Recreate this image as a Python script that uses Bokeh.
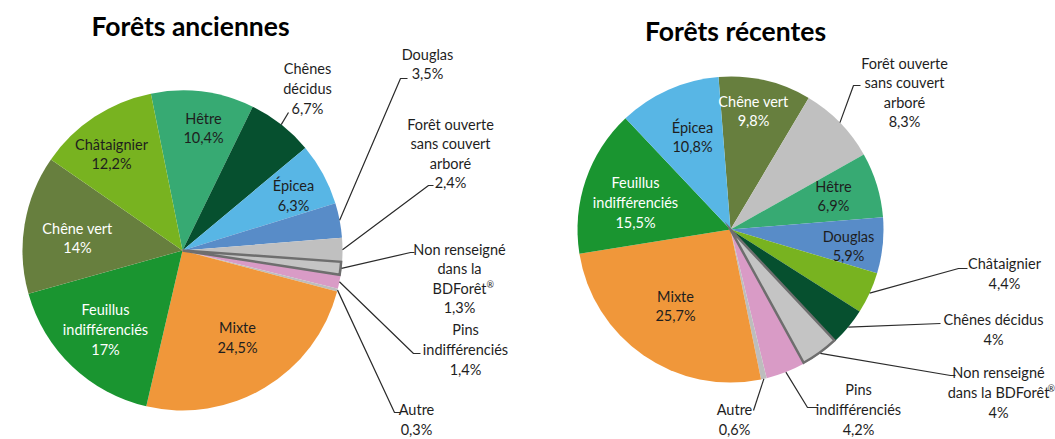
import math
from bokeh.plotting import figure
from bokeh.models import Range1d, ColumnDataSource
from bokeh.embed import file_html
from bokeh.resources import INLINE
from bokeh.core.properties import value

# ---------------- data ----------------
anc_title = "Forêts anciennes"
anc_categories = ["Hêtre", "Chênes décidus", "Épicea", "Douglas",
                  "Forêt ouverte sans couvert arboré", "Non renseigné dans la BDForêt®",
                  "Pins indifférenciés", "Autre", "Mixte", "Feuillus indifférenciés",
                  "Chêne vert", "Châtaignier"]
anc_values = [10.4, 6.7, 6.3, 3.5, 2.4, 1.3, 1.4, 0.3, 24.5, 17, 14, 12.2]

rec_title = "Forêts récentes"
rec_categories = ["Chêne vert", "Forêt ouverte sans couvert arboré", "Hêtre", "Douglas",
                  "Châtaignier", "Chênes décidus", "Non renseigné dans la BDForêt®",
                  "Pins indifférenciés", "Autre", "Mixte", "Feuillus indifférenciés", "Épicea"]
rec_values = [9.8, 8.3, 6.9, 5.9, 4.4, 4, 4, 4.2, 0.6, 25.7, 15.5, 10.8]

# ---------------- styles ----------------
colors = {
    "Hêtre": "#37AA73",
    "Chênes décidus": "#06502F",
    "Épicea": "#58B6E5",
    "Douglas": "#588CC8",
    "Forêt ouverte sans couvert arboré": "#C0C0C0",
    "Non renseigné dans la BDForêt®": "#C4C4C4",
    "Pins indifférenciés": "#D99BC6",
    "Autre": "#BDBDBD",
    "Mixte": "#F0973A",
    "Feuillus indifférenciés": "#1A9530",
    "Chêne vert": "#677F3E",
    "Châtaignier": "#78B320",
}
OUTLINED = "Non renseigné dans la BDForêt®"
DARK = "#1E1E1E"
WHITE = "#FFFFFF"
FONT = "Lato"

IMG_W, IMG_H = 1055, 439


def Y(img_y):
    return IMG_H - img_y


def fmt(v):
    s = ("%.1f" % v).rstrip("0").rstrip(".")
    return s.replace(".", ",") + "%"


# layout: pie centre/radius/rotation, and label placement (image pixel coords)
# label entry: (wrapped text, block centre, colour, leader elbow points, superscript "®" position)
anc_layout = dict(cx=182, cy=250, r=160, rot=-11.4, title_xy=(190, 25), labels={
    "Hêtre": ("Hêtre", (203, 127.5), DARK, None, None),
    "Chênes décidus": ("Chênes\ndécidus", (307, 88), DARK, [(288, 112)], None),
    "Épicea": ("Épicea", (293, 195), DARK, None, None),
    "Douglas": ("Douglas", (427, 63.5), DARK, [(400, 78), (407, 78)], None),
    "Forêt ouverte sans couvert arboré": ("Forêt ouverte\nsans couvert\narboré", (450, 153), DARK, [(428, 185), (433, 185)], None),
    "Non renseigné dans la BDForêt®": ("Non renseigné\ndans la\nBDForêt", (459, 278), DARK, [(410, 252), (414, 252)], (486, 284)),
    "Pins indifférenciés": ("Pins\nindifférenciés", (465, 349), DARK, [(413, 353), (420, 353)], None),
    "Autre": ("Autre", (416, 419), DARK, [(394, 412), (400, 412)], None),
    "Mixte": ("Mixte", (237, 337), DARK, None, None),
    "Feuillus indifférenciés": ("Feuillus\nindifférenciés", (105, 329), WHITE, None, None),
    "Chêne vert": ("Chêne vert", (77, 237.5), WHITE, None, None),
    "Châtaignier": ("Châtaignier", (111, 153.5), DARK, None, None),
})

rec_layout = dict(cx=730, cy=229, r=153, rot=-4.5, title_xy=(735, 30), labels={
    "Chêne vert": ("Chêne vert", (753, 110.5), WHITE, None, None),
    "Forêt ouverte sans couvert arboré": ("Forêt ouverte\nsans couvert\narboré", (904, 92), DARK, [(853, 85), (860, 85)], None),
    "Hêtre": ("Hêtre", (833, 195.5), DARK, None, None),
    "Douglas": ("Douglas", (848, 245.5), DARK, None, None),
    "Châtaignier": ("Châtaignier", (1004, 273), DARK, [(958, 268), (967, 268)], None),
    "Chênes décidus": ("Chênes décidus", (993, 329), DARK, [(940, 323)], None),
    "Non renseigné dans la BDForêt®": ("Non renseigné\ndans la BDForêt", (998, 392), DARK, [(950, 375), (955, 375)], (1047, 388)),
    "Pins indifférenciés": ("Pins\nindifférenciés", (858, 409), DARK, [(807, 407), (817, 407)], None),
    "Autre": ("Autre", (734, 419), DARK, [(753, 410)], None),
    "Mixte": ("Mixte", (675, 305.5), DARK, None, None),
    "Feuillus indifférenciés": ("Feuillus\nindifférenciés", (635, 202), WHITE, None, None),
    "Épicea": ("Épicea", (692, 136.5), DARK, None, None),
})

p = figure(width=IMG_W, height=IMG_H, x_range=Range1d(0, IMG_W), y_range=Range1d(0, IMG_H),
           output_backend="svg", toolbar_location=None, x_axis_type=None, y_axis_type=None,
           min_border=0, min_border_left=0, min_border_right=0, min_border_top=0,
           min_border_bottom=0)
p.grid.visible = False
p.outline_line_color = None
p.background_fill_color = "white"
p.border_fill_color = "white"


def draw_pie(title, cats, vals, lay):
    total = sum(vals)
    cx, cy, r = lay["cx"], Y(lay["cy"]), lay["r"]
    starts, ends, cols, mids = [], [], [], []
    acc = lay["rot"]
    for c, v in zip(cats, vals):
        a0 = acc
        a1 = acc + v / total * 360.0
        acc = a1
        starts.append(math.radians(90 - a0))
        ends.append(math.radians(90 - a1))
        cols.append(colors[c])
        mids.append((a0 + a1) / 2)
    src = ColumnDataSource(dict(start=starts, end=ends, color=cols, cat=cats))
    p.wedge(x=cx, y=cy, radius=r, start_angle="start", end_angle="end",
            direction="clock", fill_color="color", line_color=None, source=src)
    # outlined slice
    i = cats.index(OUTLINED)
    p.wedge(x=cx, y=cy, radius=r - 1, start_angle=starts[i], end_angle=ends[i],
            direction="clock", fill_color=cols[i], line_color="#6E6E6E", line_width=2.5,
            line_join="miter")

    # leader lines
    for c, m in zip(cats, mids):
        leader = lay["labels"][c][3]
        if leader:
            ex = lay["cx"] + r * math.sin(math.radians(m))
            ey = lay["cy"] - r * math.cos(math.radians(m))
            xs = [ex] + [pt[0] for pt in leader]
            ys = [Y(ey)] + [Y(pt[1]) for pt in leader]
            p.line(xs, ys, line_color="#2B2B2B", line_width=1.2)

    # labels
    lx, ly, lt, lc = [], [], [], []
    for c, v in zip(cats, vals):
        txt, pos, tcol, leader, sup = lay["labels"][c]
        lx.append(pos[0])
        ly.append(Y(pos[1]))
        lt.append(txt + "\n" + fmt(v))
        lc.append(tcol)
        if sup:
            p.text(x=[sup[0]], y=[Y(sup[1])], text=["®"], text_align="left",
                   text_baseline="middle", text_font=value(FONT), text_font_size="9px",
                   text_color=tcol)
    lsrc = ColumnDataSource(dict(x=lx, y=ly, t=lt, c=lc))
    p.text(x="x", y="y", text="t", text_color="c", source=lsrc, text_align="center",
           text_baseline="middle", text_font=value(FONT), text_font_size="14.5px",
           text_line_height=1.15)

    tx, ty = lay["title_xy"]
    p.text(x=[tx], y=[Y(ty)], text=[title], text_align="center", text_baseline="middle",
           text_font=value(FONT), text_font_size="26.5px", text_font_style="bold",
           text_color="#000000")


draw_pie(anc_title, anc_categories, anc_values, anc_layout)
draw_pie(rec_title, rec_categories, rec_values, rec_layout)

open("out.html", "w").write(file_html(p, INLINE))
